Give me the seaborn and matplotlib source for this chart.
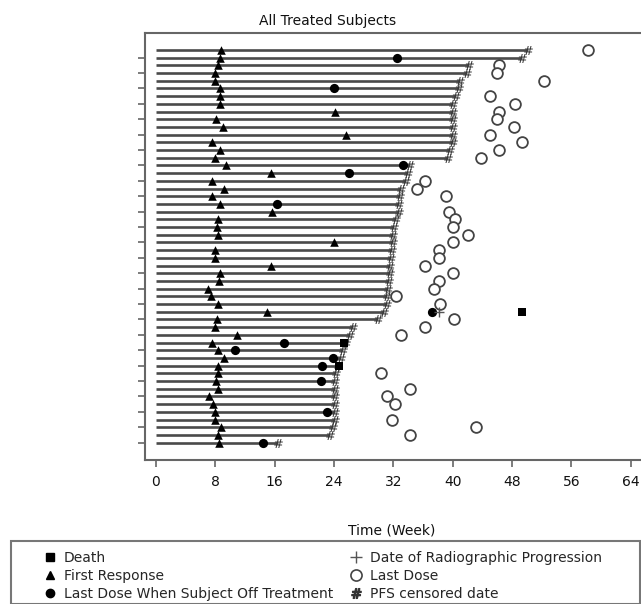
import numpy as np
import pandas as pd
import matplotlib
matplotlib.use("Agg")
import matplotlib.pyplot as plt
import seaborn as sns
from matplotlib.lines import Line2D
from matplotlib.patches import Rectangle

sns.set_style("white")
plt.rcParams["font.family"] = ["DejaVu Sans"]

# Subjects listed from top row (index 0) to bottom row (index 51); values in weeks
pfs_censored = [50.2, 49.3, 42.2, 41.9, 41.0, 40.9, 40.5, 40.1, 40.0, 40.0,
                40.0, 40.0, 40.1, 39.6, 39.4, 34.2, 34.0, 33.7, 33.1, 32.9,
                32.8, 32.7, 32.3, 32.1, 32.0, 31.9, 31.8, 31.7, 31.6, 31.5,
                31.4, 31.3, 31.2, 31.1, 30.8, 30.0, 26.5, 26.1, 25.6, 25.2,
                24.9, 24.6, 24.3, 24.2, 24.2, 24.2, 24.2, 24.1, 24.1, 23.8,
                23.4, 16.5]
first_response = [8.7, 8.6, 8.3, 8.0, 7.95, 8.6, 8.6, 8.6, 24.1, 8.1,
                  9.1, 25.6, 7.5, 8.6, 8.0, 9.4, 15.5, 7.5, 9.2, 7.5,
                  8.6, 15.7, 8.3, 8.2, 8.3, 24.0, 7.95, 7.95, 15.5, 8.6,
                  8.5, 7.05, 7.4, 8.3, 15.0, 8.2, 7.95, 10.9, 7.5, 8.3,
                  9.2, 8.4, 8.4, 8.1, 8.3, 7.2, 7.7, 8.0, 8.0, 8.7,
                  8.3, 8.5]
off_tx_rows = [1, 5, 15, 16, 20, 34, 38, 39, 40, 41, 43, 47, 51]
off_tx_weeks = [32.5, 24.0, 33.3, 26.0, 16.3, 37.2, 17.2, 10.7, 23.9, 22.4, 22.2, 23.0, 14.4]
last_dose_rows = [0, 2, 3, 4, 6, 7, 8, 9, 10, 11, 12, 13, 14, 17, 18, 19, 21, 22, 23,
                  24, 25, 26, 27, 28, 29, 30, 31, 32, 33, 35, 36, 37, 42, 44, 45, 46,
                  48, 49, 50]
last_dose_weeks = [58.2, 46.2, 46.0, 52.3, 45.0, 48.4, 46.2, 46.0, 48.3, 45.0, 49.4,
                   46.2, 43.8, 36.3, 35.2, 39.1, 39.5, 40.3, 40.1, 42.1, 40.1, 38.1,
                   38.1, 36.3, 40.0, 38.1, 37.5, 32.4, 38.3, 40.2, 36.3, 33.1, 30.3,
                   34.2, 31.2, 32.2, 31.8, 43.2, 34.2]
death_rows = [34, 38, 41]
death_weeks = [49.3, 25.3, 24.7]
prog_rows = [34]
prog_weeks = [38.1]

x_ticks = [0, 8, 16, 24, 32, 40, 48, 56, 64]

n = len(pfs_censored)


def ypos(rows):
    return [n - 1 - r for r in rows]


subj = pd.DataFrame({"y": ypos(range(n)), "pfs": pfs_censored, "resp": first_response})
off_df = pd.DataFrame({"y": ypos(off_tx_rows), "week": off_tx_weeks})
last_df = pd.DataFrame({"y": ypos(last_dose_rows), "week": last_dose_weeks})
death_df = pd.DataFrame({"y": ypos(death_rows), "week": death_weeks})
prog_df = pd.DataFrame({"y": ypos(prog_rows), "week": prog_weeks})

W, H = 641, 604
fig = plt.figure(figsize=(W / 100, H / 100), dpi=100)
ax = fig.add_axes([145 / W, 1 - 460 / H, (641 - 145) / W, (460 - 33) / H])

ax.hlines(subj["y"], 0, subj["pfs"], color="#4a4a4a", lw=1.9, zorder=2)

hash_marker = r"$\#$"
sns.scatterplot(data=subj, x="pfs", y="y", marker=hash_marker, s=42, color="#333333",
                linewidth=0, ax=ax, zorder=4, legend=False)
sns.scatterplot(data=subj, x="resp", y="y", marker="^", s=38, color="black",
                linewidth=0, ax=ax, zorder=5, legend=False)
sns.scatterplot(data=off_df, x="week", y="y", marker="o", s=44, color="black",
                linewidth=0, ax=ax, zorder=5, legend=False)
sns.scatterplot(data=last_df, x="week", y="y", marker="o", s=60, color="white",
                edgecolor="#444444", linewidth=1.3, ax=ax, zorder=5, legend=False)
sns.scatterplot(data=death_df, x="week", y="y", marker="s", s=36, color="black",
                linewidth=0, ax=ax, zorder=5, legend=False)
sns.scatterplot(data=prog_df, x="week", y="y", marker="+", s=60, color="#555555",
                linewidth=1.0, ax=ax, zorder=5, legend=False)

ax.set_xlim(-1.48, 65.39)
ax.set_ylim(-2.25, 53.2)
ax.set_xticks(x_ticks)
ax.set_xticklabels([str(t) for t in x_ticks])
ax.set_yticks(list(range(0, n, 2)))
ax.set_yticklabels([])
ax.set_xlabel("")
ax.set_ylabel("")
for side in ["left", "bottom", "top"]:
    ax.spines[side].set_color("#666666")
    ax.spines[side].set_linewidth(1.5)
ax.spines["right"].set_visible(False)
ax.tick_params(axis="both", bottom=True, left=True, direction="out", length=5,
               width=1.2, color="#666666", labelsize=10, labelcolor="#111111")
ax.tick_params(axis="x", pad=6)

fig.text(328 / W, 1 - 21 / H, "All Treated Subjects", ha="center", va="center",
         fontsize=10, color="#111111")
fig.text(392 / W, 1 - 531 / H, "Time (Week)", ha="center", va="center",
         fontsize=10, color="#111111")

# legend frame
fig.patches.append(Rectangle((10.5 / W, 0.5 / H), 629.5 / W, (603.5 - 540.7) / H,
                             transform=fig.transFigure, fill=False,
                             edgecolor="#777777", lw=1.5))

h1 = [Line2D([], [], ls="", marker="s", ms=6, color="black"),
      Line2D([], [], ls="", marker="^", ms=6, color="black"),
      Line2D([], [], ls="", marker="o", ms=6, color="black")]
l1 = ["Death", "First Response", "Last Dose When Subject Off Treatment"]
h2 = [Line2D([], [], ls="", marker="+", ms=9, mew=1.0, color="#555555"),
      Line2D([], [], ls="", marker="o", ms=8, mfc="white", mec="#444444", mew=1.2),
      Line2D([], [], ls="", marker=hash_marker, ms=7, color="#333333")]
l2 = ["Date of Radiographic Progression", "Last Dose", "PFS censored date"]

common = dict(frameon=False, borderpad=0, handlelength=1.0, handletextpad=0.5,
              labelspacing=0.3, fontsize=10, loc="upper left", borderaxespad=0)
leg1 = fig.legend(h1, l1, bbox_to_anchor=(43 / W, 1 - 551 / H), **common)
leg2 = fig.legend(h2, l2, bbox_to_anchor=(349 / W, 1 - 551 / H), **common)

fig.savefig("out.png", dpi=100)
